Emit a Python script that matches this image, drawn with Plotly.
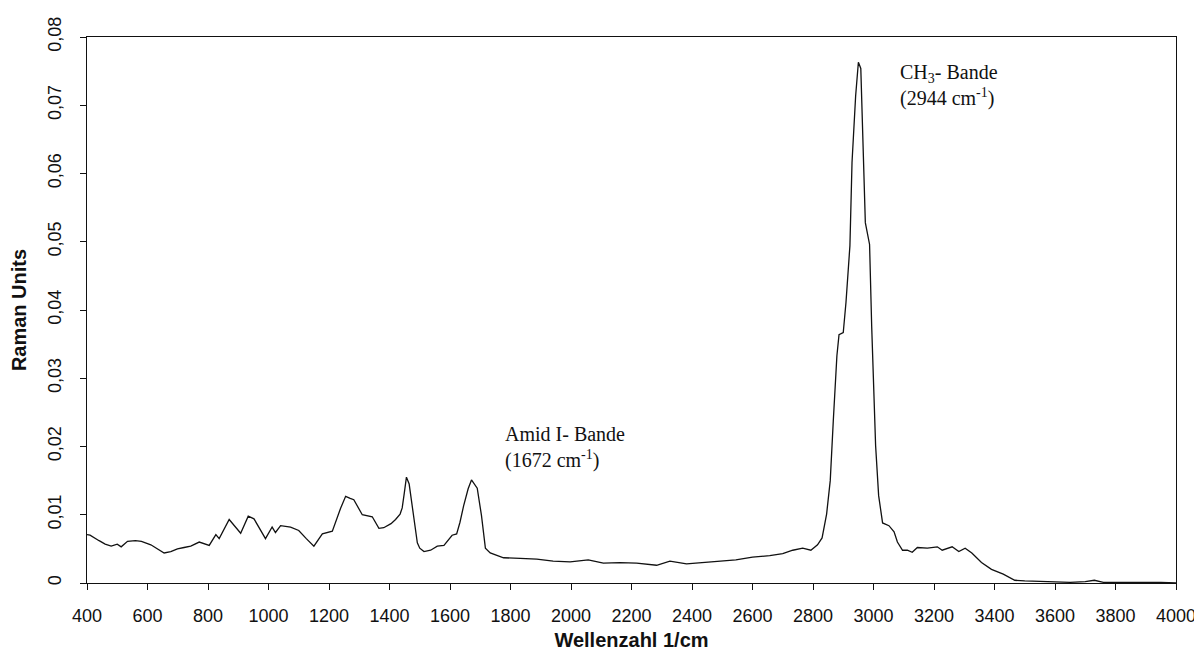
import plotly.graph_objects as go

# Raman spectrum
wavenumber = [400, 410, 440, 460, 480, 500, 513, 534, 560, 580, 611, 640, 655, 677, 699,
              721, 743, 771, 804, 826, 837, 870, 908, 933, 952, 990, 1012, 1023, 1040, 1073,
              1100, 1125, 1150, 1178, 1211, 1238, 1255, 1270, 1282, 1310, 1343, 1365, 1381,
              1405, 1420, 1435, 1442, 1449, 1456, 1465, 1475, 1482, 1492, 1500, 1514, 1536,
              1558, 1580, 1607, 1622, 1633, 1645, 1660, 1671, 1690, 1704, 1717, 1733, 1777,
              1832, 1887, 1941, 1997, 2057, 2107, 2162, 2217, 2283, 2327, 2382, 2436, 2491,
              2545, 2600, 2657, 2700, 2733, 2766, 2793, 2815, 2830, 2845, 2857, 2867, 2879,
              2886, 2900, 2909, 2922, 2929, 2941, 2950, 2958, 2973, 2987, 2994, 3007, 3017,
              3030, 3051, 3068, 3079, 3096, 3112, 3128, 3145, 3178, 3211, 3227, 3260, 3282,
              3303, 3325, 3357, 3390, 3429, 3467, 3500, 3550, 3600, 3650, 3700, 3730, 3760,
              3800, 3850, 3900, 3950, 4000]
intensity = [0.0071, 0.0070, 0.0062, 0.0057, 0.0054, 0.0057, 0.0053, 0.0061, 0.0062, 0.0061,
             0.0056, 0.0048, 0.0044, 0.0046, 0.0050, 0.0052, 0.0054, 0.0060, 0.0055, 0.0071,
             0.0065, 0.0093, 0.0073, 0.0098, 0.0094, 0.0065, 0.0082, 0.0074, 0.0084, 0.0082,
             0.0077, 0.0065, 0.0054, 0.0072, 0.0076, 0.0109, 0.0127, 0.0124, 0.0122, 0.0100,
             0.0097, 0.0080, 0.0081, 0.0087, 0.0093, 0.0101, 0.0110, 0.0132, 0.0155, 0.0145,
             0.0112, 0.0086, 0.0059, 0.0051, 0.0046, 0.0048, 0.0054, 0.0055, 0.0070, 0.0072,
             0.0089, 0.0113, 0.0138, 0.0151, 0.0139, 0.0099, 0.0051, 0.0044, 0.0037, 0.0036,
             0.0035, 0.0032, 0.0031, 0.0034, 0.0029, 0.0030, 0.0029, 0.0026, 0.0032, 0.0028,
             0.0030, 0.0032, 0.0034, 0.0038, 0.0040, 0.0043, 0.0048, 0.0051, 0.0048, 0.0056,
             0.0066, 0.0101, 0.0150, 0.0237, 0.0333, 0.0364, 0.0367, 0.0411, 0.0494, 0.0616,
             0.0714, 0.0763, 0.0754, 0.0528, 0.0496, 0.0376, 0.0201, 0.0128, 0.0088, 0.0084,
             0.0075, 0.0060, 0.0048, 0.0048, 0.0045, 0.0052, 0.0051, 0.0053, 0.0048, 0.0053,
             0.0046, 0.0051, 0.0044, 0.0030, 0.0020, 0.0013, 0.0004, 0.0003, 0.0002, 0.0002,
             0.0001, 0.0002, 0.0004, 0.0001, 0.0001, 0.0001, 0.0002, 0.0001, 0.0000]

x_ticks = list(range(400, 4001, 200))
y_ticks = [0, 0.01, 0.02, 0.03, 0.04, 0.05, 0.06, 0.07, 0.08]
y_tick_labels = ["0", "0,01", "0,02", "0,03", "0,04", "0,05", "0,06", "0,07", "0,08"]

fig = go.Figure()
fig.add_trace(go.Scatter(x=wavenumber, y=intensity, mode="lines",
                         line=dict(color="#111111", width=1.3), showlegend=False))

serif = "Liberation Serif, Times New Roman, serif"
fig.add_annotation(x=1774, y=0.0199, xref="x", yref="y", xanchor="left", yanchor="middle",
                   align="left", showarrow=False,
                   text="Amid I- Bande<br>(1672 cm<sup>-1</sup>)",
                   font=dict(family=serif, size=20, color="#111111"))
fig.add_annotation(x=3082, y=0.0729, xref="x", yref="y", xanchor="left", yanchor="middle",
                   align="left", showarrow=False,
                   text="CH<sub>3</sub>- Bande<br>(2944 cm<sup>-1</sup>)",
                   font=dict(family=serif, size=20, color="#111111"))

sans = "Liberation Sans, Arial, sans-serif"
fig.update_layout(
    width=1194, height=643,
    margin=dict(l=79, r=26, t=29, b=68),
    paper_bgcolor="white", plot_bgcolor="white",
    font=dict(family=sans, color="#111111"),
    xaxis=dict(range=[400, 4000], tickvals=x_ticks, ticks="outside", ticklen=6,
               tickcolor="#111111", showline=True, linecolor="#111111", linewidth=1.2,
               mirror=True, showgrid=False, zeroline=False, automargin=False,
               tickfont=dict(size=18), ticklabelstandoff=10,
               title=dict(text="<b>Wellenzahl 1/cm</b>", font=dict(size=20), standoff=19)),
    yaxis=dict(range=[0, 0.08], tickvals=y_ticks, ticktext=y_tick_labels, tickangle=-90,
               ticks="outside", ticklen=6, tickcolor="#111111", showline=True,
               linecolor="#111111", linewidth=1.2, mirror=True, showgrid=False,
               zeroline=False, automargin=False, tickfont=dict(size=18),
               ticklabelstandoff=12,
               title=dict(text="<b>Raman Units</b>", font=dict(size=20), standoff=18)),
)

fig.write_html("out.html")
